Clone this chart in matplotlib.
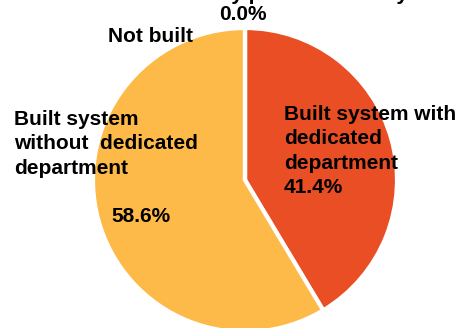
import matplotlib.pyplot as plt

plt.rcParams['font.family'] = ['Liberation Sans', 'DejaVu Sans']

# share of respondents per category, clockwise from 12 o'clock
categories = [
    "Built system with\ndedicated\ndepartment",
    "Built system\nwithout  dedicated\ndepartment",
    "Not built",
    "Built and run by parent authority",
]
shares = [41.4, 58.6, 0.0, 0.0]
colors = ['#E94E24', '#FDBA48', '#FDBA48', '#E94E24']

W, H = 461, 328
CX, CY, R = 245, 180, 150   # pie centre / radius in pixels


def fx(x):
    return x / W


def fy(y):
    return 1 - y / H


fig = plt.figure(figsize=(W / 100, H / 100), dpi=100)
ax = fig.add_axes([0, 0, 1, 1])
ax.pie(shares, colors=colors, startangle=90, counterclock=False,
       radius=1 + 2 / R,
       wedgeprops=dict(edgecolor='white', linewidth=3))
ax.set_xlim(-CX / R, (W - CX) / R)
ax.set_ylim(-(H - CY) / R, CY / R)
ax.set_aspect('auto')
ax.axis('off')

txt = dict(fontsize=15, fontweight='bold', color='black', linespacing=1.36)

fig.text(fx(284), fy(105), f"{categories[0]}\n{shares[0]:.1f}%",
         ha='left', va='top', **txt)
fig.text(fx(14), fy(110), categories[1], ha='left', va='top', **txt)
fig.text(fx(141), fy(216), f"{shares[1]:.1f}%", ha='center', va='center', **txt)
fig.text(fx(150), fy(37), categories[2], ha='center', va='center', **txt)
fig.text(fx(243), fy(15), f"{shares[3]:.1f}%", ha='center', va='center', **txt)
# long label sits above the top edge, only its descenders show
fig.text(fx(84), fy(0.5), categories[3], ha='left', va='baseline', **txt)

fig.savefig('out.png', dpi=100)
